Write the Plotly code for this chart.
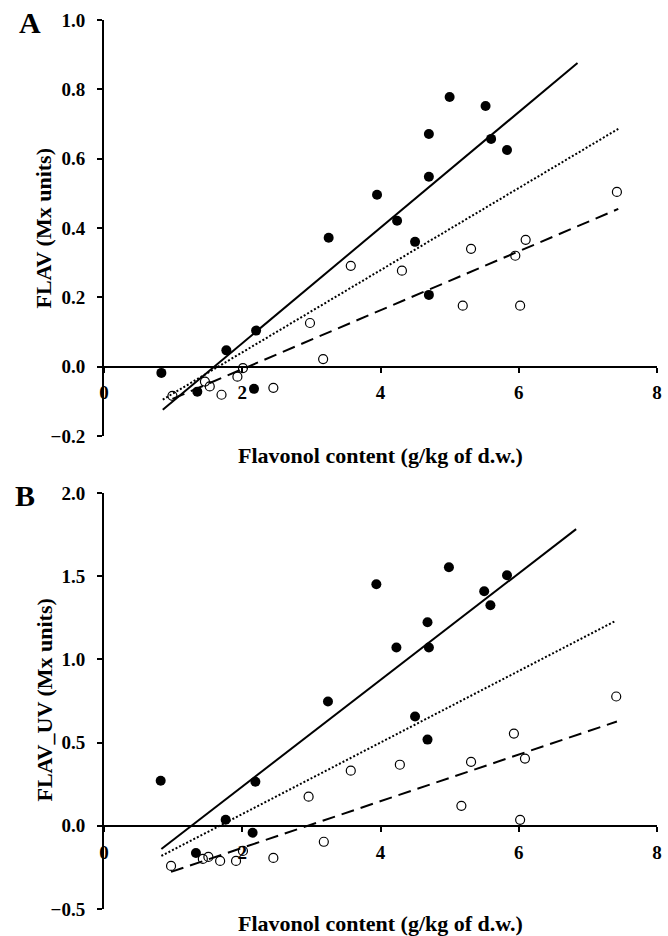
import plotly.graph_objects as go

# ---- Panel A data (FLAV) ----
a_filled_x = [0.83, 1.35, 1.77, 2.20, 2.17, 3.25, 3.95, 4.24, 4.50, 4.70, 4.70, 4.70, 5.00, 5.52, 5.60, 5.83]
a_filled_y = [-0.018, -0.072, 0.047, 0.104, -0.064, 0.372, 0.496, 0.421, 0.360, 0.671, 0.548, 0.207, 0.778, 0.752, 0.657, 0.625]
a_open_x = [0.99, 1.46, 1.53, 1.70, 1.93, 2.01, 2.45, 2.98, 3.17, 3.57, 4.31, 5.31, 5.19, 5.95, 6.10, 6.02, 7.42]
a_open_y = [-0.084, -0.043, -0.057, -0.081, -0.029, -0.004, -0.061, 0.126, 0.022, 0.291, 0.277, 0.340, 0.176, 0.320, 0.366, 0.176, 0.504]
# regression lines (endpoints)
a_solid_x = [0.85, 6.85]
a_solid_y = [-0.124, 0.876]
a_dot_x = [0.85, 7.44]
a_dot_y = [-0.095, 0.686]
a_dash_x = [0.99, 7.44]
a_dash_y = [-0.093, 0.455]

# ---- Panel B data (FLAV_UV) ----
b_filled_x = [0.82, 1.33, 1.76, 2.19, 2.15, 3.24, 3.94, 4.23, 4.50, 4.68, 4.68, 4.70, 4.99, 5.50, 5.59, 5.83]
b_filled_y = [0.271, -0.163, 0.036, 0.265, -0.042, 0.747, 1.452, 1.072, 0.657, 1.223, 0.518, 1.072, 1.554, 1.410, 1.325, 1.506]
b_open_x = [0.97, 1.43, 1.51, 1.68, 1.91, 2.01, 2.45, 2.96, 3.18, 3.57, 4.28, 5.31, 5.17, 5.93, 6.09, 6.02, 7.41]
b_open_y = [-0.241, -0.199, -0.187, -0.211, -0.211, -0.151, -0.193, 0.175, -0.096, 0.331, 0.367, 0.384, 0.120, 0.554, 0.404, 0.036, 0.777]
b_solid_x = [0.83, 6.83]
b_solid_y = [-0.139, 1.783]
b_dot_x = [0.83, 7.39]
b_dot_y = [-0.181, 1.229]
b_dash_x = [0.97, 7.42]
b_dash_y = [-0.277, 0.627]

# axis ticks / labels
x_ticks = [0, 2, 4, 6, 8]
a_y_ticks = [-0.2, 0.0, 0.2, 0.4, 0.6, 0.8, 1.0]
b_y_ticks = [-0.5, 0.0, 0.5, 1.0, 1.5, 2.0]
a_range = [-0.2, 1.0]
b_range = [-0.5, 2.0]
x_title = "Flavonol content (g/kg of d.w.)"
a_y_title = "FLAV (Mx units)"
b_y_title = "FLAV_UV (Mx units)"

W, H = 668, 936
M_L, M_R, M_T, M_B = 104, 6, 20, 27
plot_h = H - M_T - M_B
dom_a = [(909 - 436) / plot_h, 1.0]
dom_b = [0.0, (909 - 493) / plot_h]

FONT = "Liberation Serif"

fig = go.Figure()

def add_panel(fx, fy, ox, oy, sx, sy, dx, dy, ddx, ddy, xa, ya):
    fig.add_trace(go.Scatter(x=fx, y=fy, mode="markers", xaxis=xa, yaxis=ya,
                             marker=dict(symbol="circle", size=10, color="black"),
                             showlegend=False, cliponaxis=False))
    fig.add_trace(go.Scatter(x=ox, y=oy, mode="markers", xaxis=xa, yaxis=ya,
                             marker=dict(symbol="circle-open", size=9, color="black",
                                         line=dict(width=1.2, color="black")),
                             showlegend=False, cliponaxis=False))
    fig.add_trace(go.Scatter(x=sx, y=sy, mode="lines", xaxis=xa, yaxis=ya,
                             line=dict(color="black", width=2), showlegend=False))
    fig.add_trace(go.Scatter(x=dx, y=dy, mode="lines", xaxis=xa, yaxis=ya,
                             line=dict(color="black", width=2, dash="2px,2px"), showlegend=False))
    fig.add_trace(go.Scatter(x=ddx, y=ddy, mode="lines", xaxis=xa, yaxis=ya,
                             line=dict(color="black", width=2, dash="13px,7px"), showlegend=False))

add_panel(a_filled_x, a_filled_y, a_open_x, a_open_y, a_solid_x, a_solid_y,
          a_dot_x, a_dot_y, a_dash_x, a_dash_y, "x", "y")
add_panel(b_filled_x, b_filled_y, b_open_x, b_open_y, b_solid_x, b_solid_y,
          b_dot_x, b_dot_y, b_dash_x, b_dash_y, "x2", "y2")

tickfont = dict(family=FONT, size=19, color="black", weight="bold")

def xaxis_cfg(pos):
    return dict(range=[0, 8], tickvals=x_ticks, ticktext=[str(t) for t in x_ticks],
                showgrid=False, zeroline=False, showline=True, linecolor="black", linewidth=2,
                ticks="outside", ticklen=5, tickwidth=2, tickcolor="black",
                tickfont=tickfont, anchor="free", position=pos,
                ticklabelstandoff=4, domain=[0, 1])

def yaxis_cfg(rng, ticks, dom, xref):
    return dict(range=rng, tickvals=ticks, tickformat=".1f", domain=dom, anchor=xref,
                showgrid=False, zeroline=False, showline=True, linecolor="black", linewidth=2,
                ticks="outside", ticklen=5, tickwidth=2, tickcolor="black",
                tickfont=tickfont, ticklabelstandoff=8)

pos_a = dom_a[0] + (dom_a[1] - dom_a[0]) * (0 - a_range[0]) / (a_range[1] - a_range[0])
pos_b = dom_b[0] + (dom_b[1] - dom_b[0]) * (0 - b_range[0]) / (b_range[1] - b_range[0])

fig.update_layout(
    width=W, height=H,
    margin=dict(l=M_L, r=M_R, t=M_T, b=M_B),
    paper_bgcolor="white", plot_bgcolor="white",
    xaxis=xaxis_cfg(pos_a), xaxis2=xaxis_cfg(pos_b),
    yaxis=yaxis_cfg(a_range, a_y_ticks, dom_a, "x"),
    yaxis2=yaxis_cfg(b_range, b_y_ticks, dom_b, "x2"),
)

def px_to_paper_y(py):
    return (H - M_B - py) / plot_h

def px_to_paper_x(px):
    return (px - M_L) / (W - M_L - M_R)

title_font = dict(family=FONT, size=22, color="black", weight="bold")
for ty in (455, 923):
    fig.add_annotation(xref="paper", yref="paper", x=px_to_paper_x(383), y=px_to_paper_y(ty),
                       text=x_title, xanchor="center", yanchor="middle",
                       showarrow=False, font=title_font)
fig.add_annotation(xref="paper", yref="paper", x=px_to_paper_x(43), y=px_to_paper_y(228),
                   text=a_y_title, textangle=-90, showarrow=False, font=title_font,
                   xanchor="center", yanchor="middle")
fig.add_annotation(xref="paper", yref="paper", x=px_to_paper_x(43), y=px_to_paper_y(700),
                   text=b_y_title, textangle=-90, showarrow=False, font=title_font,
                   xanchor="center", yanchor="middle")
letter_font = dict(family=FONT, size=30, color="black", weight="bold")
fig.add_annotation(xref="paper", yref="paper", x=px_to_paper_x(29), y=px_to_paper_y(22),
                   text="A", showarrow=False, font=letter_font, xanchor="center", yanchor="middle")
fig.add_annotation(xref="paper", yref="paper", x=px_to_paper_x(24), y=px_to_paper_y(495),
                   text="B", showarrow=False, font=letter_font, xanchor="center", yanchor="middle")

fig.write_html("out.html", config={"displayModeBar": False},
               post_script="document.body.style.margin='0';")
